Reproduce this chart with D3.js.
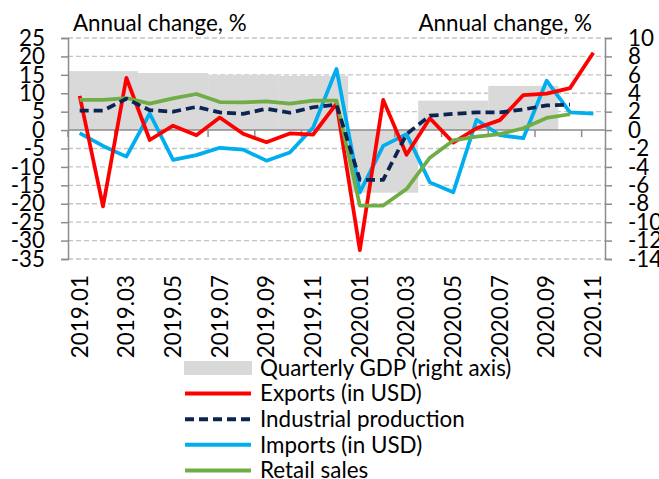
<!DOCTYPE html>
<html>
<head>
<meta charset="utf-8">
<script src="https://cdn.jsdelivr.net/npm/d3@7"></script>
<style>
  body { margin: 0; background: #fff; }
  svg text { font-family: Lato, "Liberation Sans", sans-serif; fill: #000; }
</style>
</head>
<body>
<svg id="chart" width="659" height="479"></svg>
<script>
var months = ["2019.01","2019.02","2019.03","2019.04","2019.05","2019.06","2019.07","2019.08","2019.09","2019.10","2019.11","2019.12",
  "2020.01","2020.02","2020.03","2020.04","2020.05","2020.06","2020.07","2020.08","2020.09","2020.10","2020.11"];

var exports = [9.3, -20.7, 14.2, -2.7, 1.2, -1.4, 3.4, -1.0, -3.3, -0.9, -1.2, 7.2,
  -32.6, 8.2, -6.7, 3.2, -3.4, 0.5, 2.7, 9.5, 9.9, 11.4, 21.0];
var industrial = [5.3, 5.3, 8.5, 5.4, 5.0, 6.3, 4.8, 4.4, 5.8, 4.7, 6.2, 6.9,
  -13.5, -13.5, -1.1, 3.9, 4.4, 4.8, 4.8, 5.6, 6.7, 6.9, null];
var imports = [-0.8, -4.3, -7.2, 4.5, -8.1, -6.8, -4.8, -5.3, -8.3, -6.1, 0.7, 16.6,
  -16.9, -4.3, -1.1, -14.2, -16.9, 2.8, -1.4, -2.2, 13.4, 4.8, 4.5];
var retail = [8.2, 8.2, 8.7, 7.2, 8.6, 9.8, 7.6, 7.5, 7.8, 7.2, 8.0, 8.0,
  -20.5, -20.5, -16.0, -7.5, -2.8, -1.8, -1.1, 0.5, 3.3, 4.3, null];

// quarterly GDP, right axis; each bar spans three months
var quarters = ["2019Q1","2019Q2","2019Q3","2019Q4","2020Q1","2020Q2","2020Q3"];
var gdp = [6.4, 6.2, 6.0, 5.9, -6.8, 3.2, 4.8];

var leftTicks = [25, 20, 15, 10, 5, 0, -5, -10, -15, -20, -25, -30, -35];
var rightTicks = [10, 8, 6, 4, 2, 0, -2, -4, -6, -8, -10, -12, -14];

var svg = d3.select("#chart"),
  margin = {top: 38, right: 54, bottom: 220, left: 68},
  width = 659 - margin.left - margin.right,
  height = 479 - margin.top - margin.bottom,
  g = svg.append("g").attr("transform", "translate(" + margin.left + "," + margin.top + ")");

var fontSize = 22.4;

var x = d3.scaleBand().domain(months).range([0, width]).padding(0);
var y = d3.scaleLinear().domain([-35, 25]).range([height, 0]);
var y2 = d3.scaleLinear().domain([-14, 10]).range([height, 0]);

// gridlines
g.append("g")
  .selectAll("line")
  .data(leftTicks.filter(function(d) { return d != 0; }))
  .enter().append("line")
    .attr("x1", 0)
    .attr("x2", width)
    .attr("y1", function(d) { return y(d); })
    .attr("y2", function(d) { return y(d); })
    .attr("stroke", "#c4c4c4")
    .attr("stroke-width", 1.3)
    .attr("stroke-dasharray", "5,3");

// GDP bars
g.append("g")
  .selectAll("rect")
  .data(gdp)
  .enter().append("rect")
    .attr("x", function(d, i) { return x(months[i * 3]); })
    .attr("width", x.bandwidth() * 3)
    .attr("y", function(d) { return Math.min(y2(d), y2(0)); })
    .attr("height", function(d) { return Math.abs(y2(d) - y2(0)); })
    .attr("fill", "#d9d9d9");

// x axis at zero, ticks every two months
var xTicks = d3.range(0, months.length, 2).map(function(i) { return x(months[i]); });
g.append("line")
  .attr("x1", 0).attr("x2", width)
  .attr("y1", y(0)).attr("y2", y(0))
  .attr("stroke", "#8c8c8c")
  .attr("stroke-width", 1.5);
g.append("g")
  .selectAll("line")
  .data(xTicks)
  .enter().append("line")
    .attr("x1", function(d) { return d; })
    .attr("x2", function(d) { return d; })
    .attr("y1", y(0))
    .attr("y2", y(0) + 7)
    .attr("stroke", "#8c8c8c")
    .attr("stroke-width", 1.5);

// left and right axes
var axisL = g.append("g")
  .call(d3.axisLeft(y).tickValues(leftTicks).tickSize(7).tickPadding(16).tickFormat(d3.format("d")));
var axisR = g.append("g")
  .attr("transform", "translate(" + width + ",0)")
  .call(d3.axisRight(y2).tickValues(rightTicks).tickSize(7).tickPadding(16).tickFormat(d3.format("d")));
[axisL, axisR].forEach(function(a) {
  a.select(".domain").attr("stroke", "#8c8c8c").attr("stroke-width", 1.5);
  a.selectAll(".tick line").attr("stroke", "#8c8c8c").attr("stroke-width", 1.5);
  a.selectAll(".tick text")
    .style("font-size", fontSize + "px")
    .style("font-family", "Lato, sans-serif")
    .attr("fill", "#000")
    .text(function(d) { return d < 0 ? "-" + Math.abs(d) : d; });
});

// x labels
g.append("g")
  .selectAll("text")
  .data(months.filter(function(d, i) { return i % 2 == 0; }))
  .enter().append("text")
    .attr("transform", function(d) {
      return "translate(" + (x(d) + x.bandwidth() / 2) + "," + (height + 16) + ") rotate(-90)";
    })
    .attr("text-anchor", "end")
    .attr("dy", "0.35em")
    .style("font-size", fontSize + "px")
    .text(function(d) { return d; });

// series lines
var series = [
  {name: "Exports (in USD)", values: exports, color: "#ff0000", dash: null},
  {name: "Industrial production", values: industrial, color: "#0c2451", dash: "9,5"},
  {name: "Imports (in USD)", values: imports, color: "#00aeef", dash: null},
  {name: "Retail sales", values: retail, color: "#70ad47", dash: null}
];
var drawOrder = [series[2], series[0], series[3], series[1]];

var line = d3.line()
  .defined(function(d) { return d.v != null; })
  .x(function(d) { return x(d.m) + x.bandwidth() / 2; })
  .y(function(d) { return y(d.v); });

g.append("g")
  .selectAll("path")
  .data(drawOrder)
  .enter().append("path")
    .attr("fill", "none")
    .attr("stroke", function(d) { return d.color; })
    .attr("stroke-width", 3.75)
    .attr("stroke-linejoin", "round")
    .attr("stroke-dasharray", function(d) { return d.dash; })
    .attr("d", function(d) {
      return line(d.values.map(function(v, i) { return {m: months[i], v: v}; }));
    });

// axis titles
svg.append("text")
  .attr("x", 73)
  .attr("y", 31)
  .style("font-size", fontSize + "px")
  .text("Annual change, %");
svg.append("text")
  .attr("x", 592)
  .attr("y", 31)
  .attr("text-anchor", "end")
  .style("font-size", fontSize + "px")
  .text("Annual change, %");

// legend
var legend = svg.append("g").attr("transform", "translate(184,368)");
var items = [{name: "Quarterly GDP (right axis)", bar: true}].concat(series);
var row = legend.selectAll(".legend")
  .data(items)
  .enter().append("g")
    .attr("class", "legend")
    .attr("transform", function(d, i) { return "translate(0," + i * 25.6 + ")"; });

row.filter(function(d) { return d.bar; }).append("rect")
  .attr("x", 0).attr("y", -7)
  .attr("width", 68).attr("height", 14)
  .attr("fill", "#d9d9d9");
row.filter(function(d) { return !d.bar; }).append("line")
  .attr("x1", 1).attr("x2", 67)
  .attr("stroke", function(d) { return d.color; })
  .attr("stroke-width", 4)
  .attr("stroke-dasharray", function(d) { return d.dash; });
row.append("text")
  .attr("x", 76)
  .attr("dy", "0.35em")
  .style("font-size", fontSize + "px")
  .text(function(d) { return d.name; });
</script>
</body>
</html>
